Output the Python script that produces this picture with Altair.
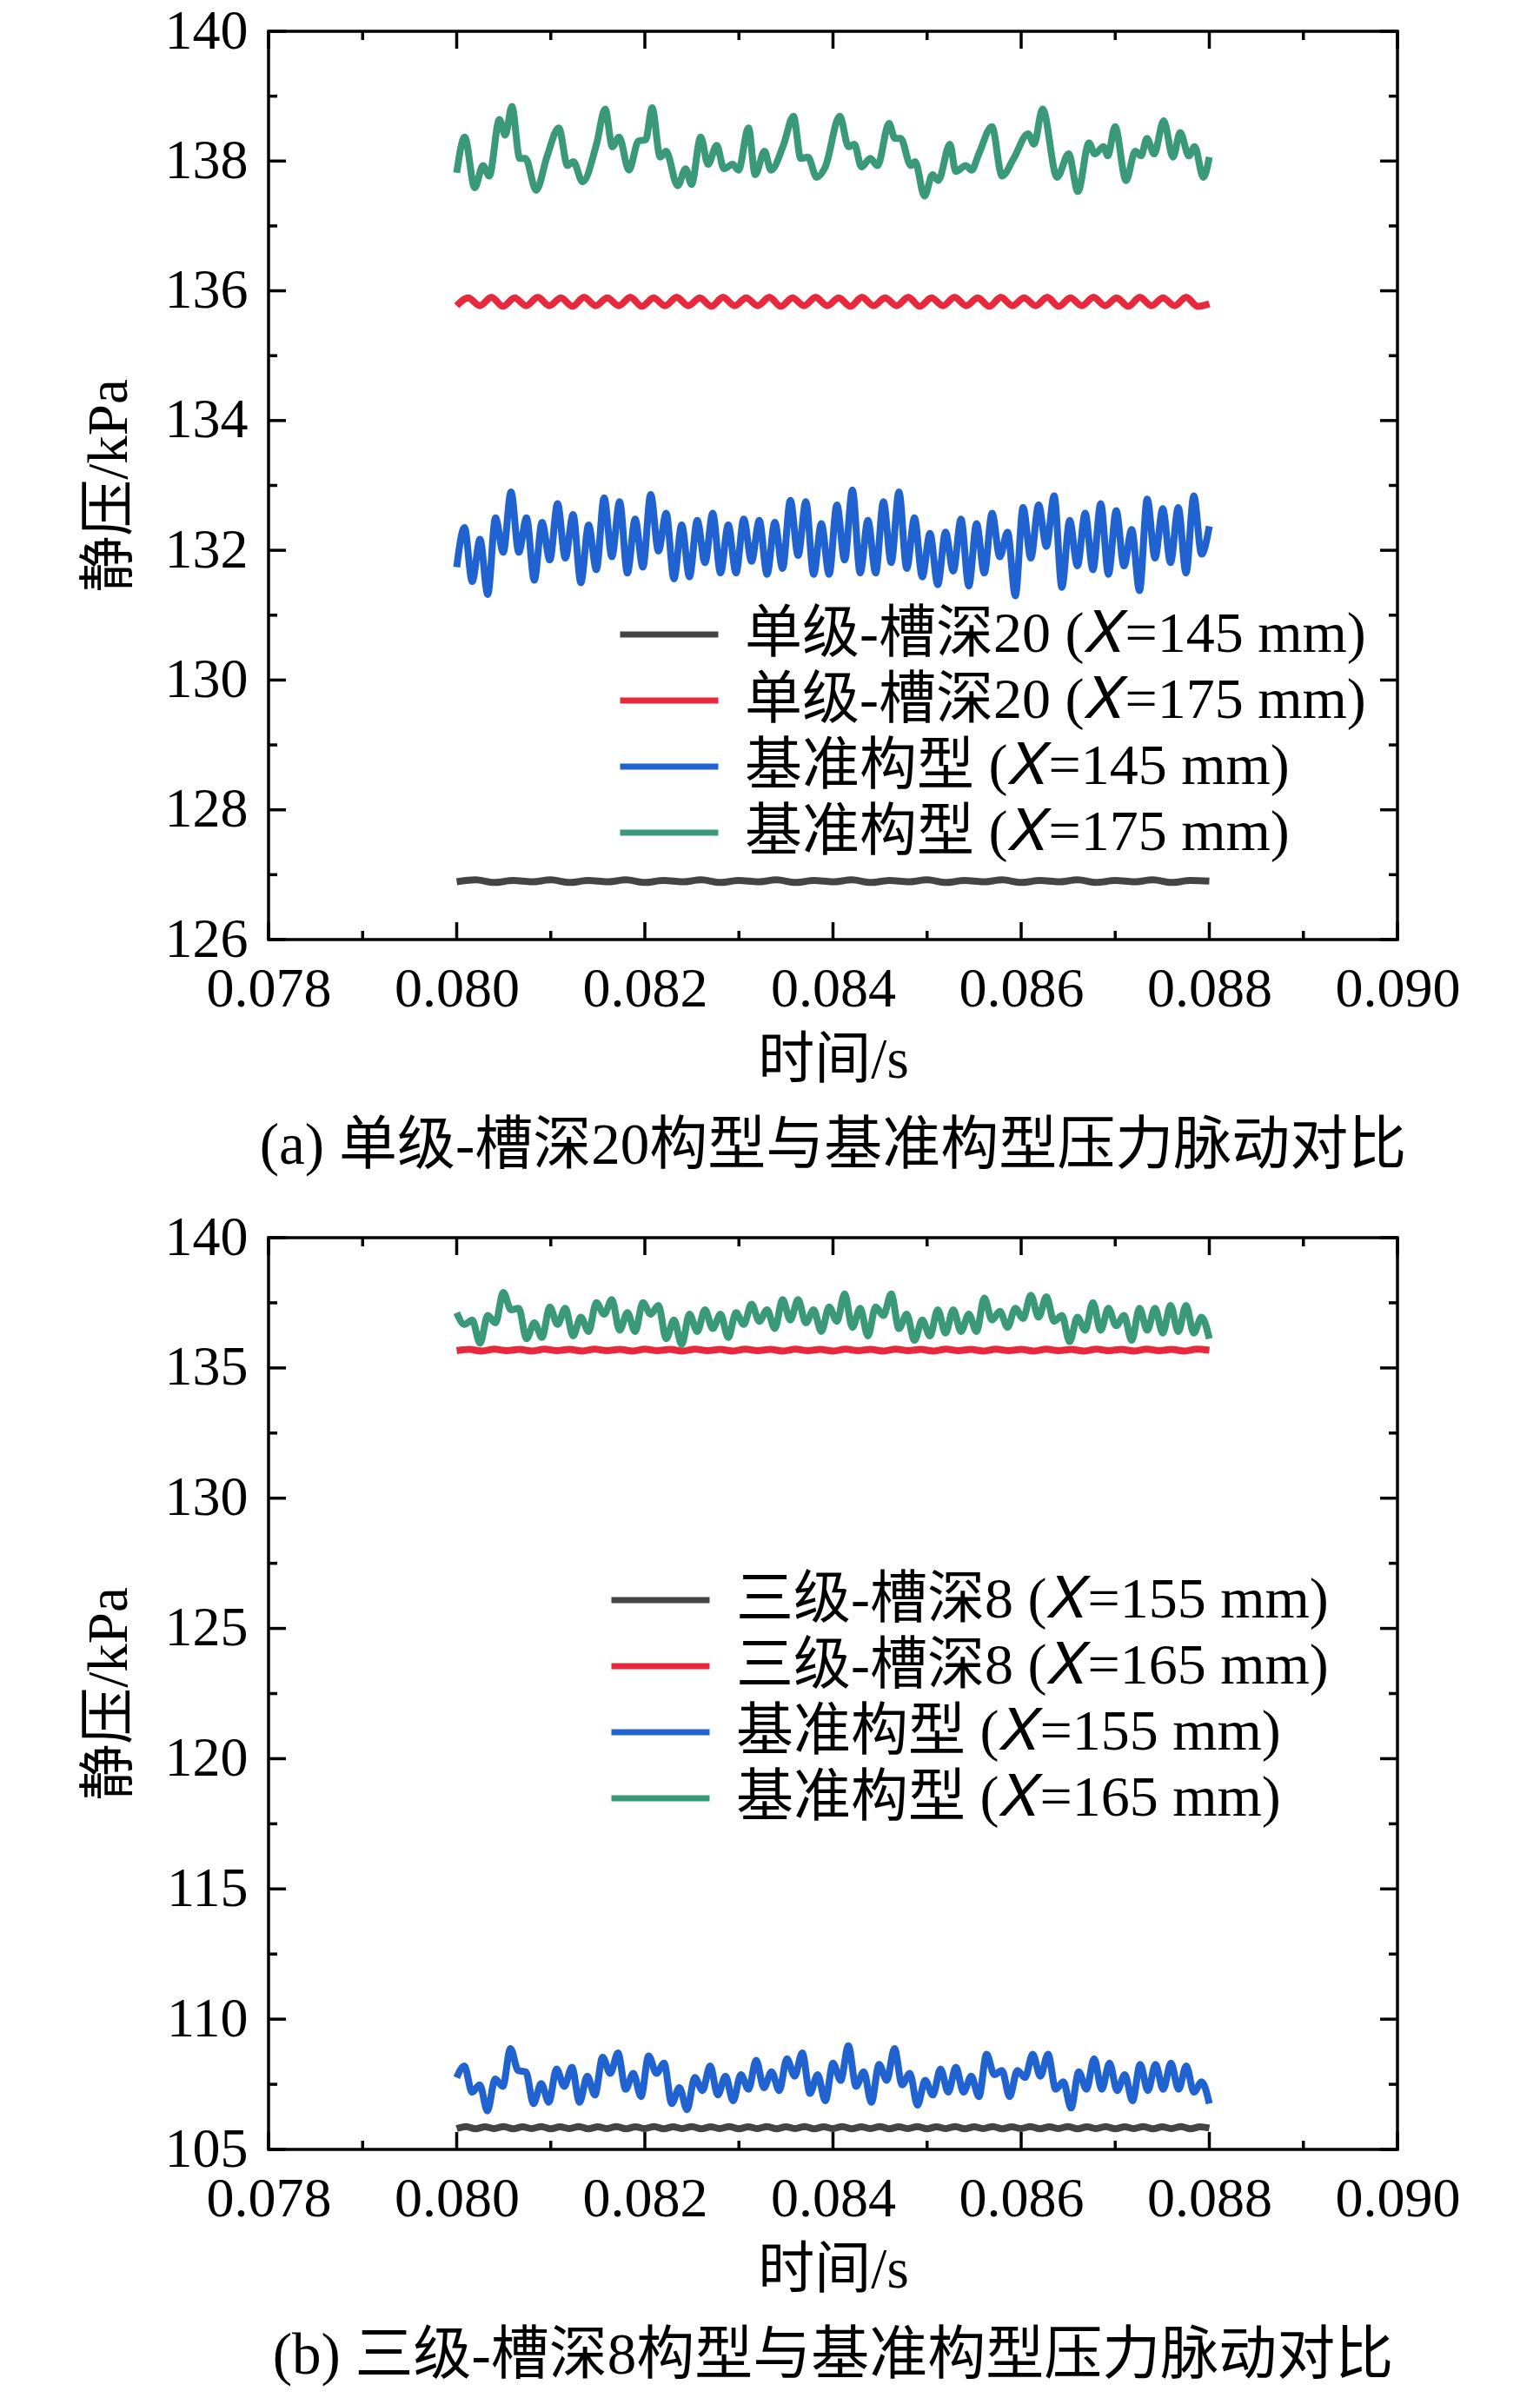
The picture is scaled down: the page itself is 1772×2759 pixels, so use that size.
import altair as alt
import numpy as np
import pandas as pd

FONT = "Liberation Serif, Times New Roman, Noto Sans CJK SC"

# ---------------- panel (a) ----------------
labels_a = ["单级-槽深20 (𝑋=145 mm)", "单级-槽深20 (𝑋=175 mm)",
            "基准构型 (𝑋=145 mm)", "基准构型 (𝑋=175 mm)"]
caption_a = "(a) 单级-槽深20构型与基准构型压力脉动对比"

black_a = [126.89, 126.92, 126.88, 126.91, 126.89, 126.92, 126.88, 126.91, 126.89, 126.92,
           126.88, 126.91, 126.89, 126.92, 126.88, 126.91, 126.89, 126.92, 126.88, 126.91,
           126.89, 126.92, 126.88, 126.91, 126.89, 126.92, 126.88, 126.91, 126.89, 126.92,
           126.88, 126.91, 126.89, 126.92, 126.88, 126.91, 126.89, 126.92, 126.88, 126.91, 126.90]

red_a = [135.77, 135.89, 135.77, 135.90, 135.76, 135.89, 135.77, 135.90, 135.77, 135.89,
         135.76, 135.90, 135.77, 135.89, 135.77, 135.90, 135.76, 135.89, 135.77, 135.90,
         135.77, 135.89, 135.76, 135.90, 135.77, 135.89, 135.77, 135.90, 135.76, 135.89,
         135.77, 135.90, 135.77, 135.89, 135.76, 135.90, 135.77, 135.89, 135.77, 135.90,
         135.76, 135.89, 135.77, 135.90, 135.77, 135.89, 135.76, 135.90, 135.77, 135.89,
         135.77, 135.90, 135.76, 135.89, 135.77, 135.90, 135.77, 135.89, 135.76, 135.90,
         135.77, 135.89, 135.77, 135.90, 135.76, 135.80]

blue_a = [131.74, 132.35, 131.52, 132.17, 131.32, 132.50, 131.97, 132.90, 131.97, 132.50,
          131.54, 132.43, 131.85, 132.72, 131.88, 132.55, 131.50, 132.39, 131.70, 132.81,
          131.90, 132.75, 131.65, 132.48, 131.74, 132.86, 131.99, 132.57, 131.56, 132.39,
          131.59, 132.46, 131.81, 132.57, 131.65, 132.39, 131.65, 132.48, 131.83, 132.46,
          131.63, 132.43, 131.72, 132.77, 131.92, 132.75, 131.63, 132.41, 131.63, 132.70,
          131.85, 132.93, 131.65, 132.46, 131.65, 132.75, 131.81, 132.90, 131.72, 132.50,
          131.59, 132.26, 131.47, 132.28, 131.68, 132.48, 131.45, 132.41, 131.65, 132.57,
          131.90, 132.28, 131.30, 132.66, 131.88, 132.70, 132.06, 132.84, 131.43, 132.46,
          131.76, 132.57, 131.70, 132.72, 131.63, 132.61, 131.76, 132.32, 131.38, 132.79,
          131.88, 132.64, 131.81, 132.66, 131.65, 132.84, 131.94, 132.37]

green_a_t = [0.080000, 0.080085, 0.080192, 0.080279, 0.080346, 0.080454, 0.080516, 0.080587,
             0.080670, 0.080731, 0.080845, 0.080962, 0.081085, 0.081178, 0.081240, 0.081338,
             0.081486, 0.081578, 0.081655, 0.081726, 0.081831, 0.081932, 0.082009, 0.082077,
             0.082163, 0.082225, 0.082348, 0.082434, 0.082496, 0.082594, 0.082671, 0.082764,
             0.082841, 0.082933, 0.082995, 0.083102, 0.083173, 0.083272, 0.083340, 0.083472,
             0.083580, 0.083657, 0.083734, 0.083826, 0.083918,
             0.084072, 0.084165, 0.084226, 0.084303, 0.084396, 0.084473, 0.084596, 0.084657,
             0.084719, 0.084827, 0.084873, 0.084972, 0.085058, 0.085119, 0.085243, 0.085304,
             0.085412, 0.085473, 0.085550, 0.085689, 0.085797, 0.085920, 0.086074, 0.086136,
             0.086228, 0.086382, 0.086505, 0.086603, 0.086721, 0.086782, 0.086875, 0.086921,
             0.086998, 0.087115, 0.087213, 0.087275, 0.087337, 0.087413, 0.087515, 0.087614,
             0.087690, 0.087783, 0.087844, 0.087937, 0.088000]
green_a = [137.82, 138.37, 137.59, 137.93, 137.77, 138.64, 138.40, 138.84, 138.04, 138.04,
           137.55, 138.08, 138.51, 137.93, 137.99, 137.68, 138.26, 138.80, 138.22, 138.37,
           137.86, 138.31, 138.33, 138.82, 138.06, 138.15, 137.62, 137.88, 137.64, 138.37,
           137.95, 138.24, 137.88, 137.95, 137.86, 138.51, 137.79, 138.15, 137.86, 138.24,
           138.69, 138.04, 138.06, 137.75, 137.91,
           138.69, 138.22, 138.26, 137.91, 138.04, 137.93, 138.58, 138.35, 138.35, 137.93,
           137.99, 137.46, 137.79, 137.70, 138.26, 137.84, 137.93, 137.86, 138.11, 138.53,
           137.77, 138.04, 138.42, 138.26, 138.80, 137.75, 138.11, 137.53, 138.28, 138.11,
           138.22, 138.08, 138.53, 137.70, 138.15, 138.08, 138.35, 138.11, 138.62, 138.06,
           138.44, 138.08, 138.22, 137.75, 138.06]

# ---------------- panel (b) ----------------
labels_b = ["三级-槽深8 (𝑋=155 mm)", "三级-槽深8 (𝑋=165 mm)",
            "基准构型 (𝑋=155 mm)", "基准构型 (𝑋=165 mm)"]
caption_b = "(b) 三级-槽深8构型与基准构型压力脉动对比"

black_b = [105.80, 105.88, 105.79, 105.87, 105.80, 105.88, 105.79, 105.87, 105.80, 105.88,
           105.79, 105.87, 105.80, 105.88, 105.79, 105.87, 105.80, 105.88, 105.79, 105.87,
           105.80, 105.88, 105.79, 105.87, 105.80, 105.88, 105.79, 105.87, 105.80, 105.88,
           105.79, 105.87, 105.80, 105.88, 105.79, 105.87, 105.80, 105.88, 105.79, 105.87,
           105.80, 105.88, 105.79, 105.87, 105.80, 105.88, 105.79, 105.87, 105.80, 105.88,
           105.79, 105.87, 105.80, 105.88, 105.79, 105.87, 105.80, 105.88, 105.79, 105.87,
           105.80, 105.88, 105.79, 105.87, 105.80, 105.88, 105.79, 105.87, 105.80, 105.88,
           105.79, 105.87, 105.80, 105.88, 105.79, 105.87, 105.80, 105.88, 105.79, 105.87, 105.82]

red_b = [135.66, 135.71, 135.65, 135.72, 135.66, 135.71, 135.65, 135.72, 135.66, 135.71,
         135.65, 135.72, 135.66, 135.71, 135.65, 135.72, 135.66, 135.71, 135.65, 135.72,
         135.66, 135.71, 135.65, 135.72, 135.66, 135.71, 135.65, 135.72, 135.66, 135.71,
         135.65, 135.72, 135.66, 135.71, 135.65, 135.72, 135.66, 135.71, 135.65, 135.72,
         135.66, 135.71, 135.65, 135.72, 135.66, 135.71, 135.65, 135.72, 135.66, 135.71,
         135.65, 135.72, 135.66, 135.71, 135.65, 135.72, 135.66, 135.71, 135.65, 135.72, 135.68]

blue_b = [107.76, 108.20, 107.20, 107.48, 106.48, 107.70, 107.42, 108.87, 108.03, 107.98,
          106.76, 107.53, 106.81, 108.09, 107.42, 108.15, 106.81, 107.81, 107.09, 108.54,
          107.92, 108.70, 107.31, 107.92, 107.03, 108.59, 107.92, 108.31, 106.76, 107.37,
          106.53, 107.76, 107.26, 108.20, 107.09, 107.81, 106.87, 107.87, 107.31, 108.42,
          107.37, 107.98, 107.26, 108.48, 107.81, 108.70, 107.15, 107.87, 106.87, 108.31,
          107.65, 108.98, 107.42, 107.98, 106.81, 108.26, 107.65, 108.87, 107.48, 107.92,
          106.70, 107.65, 107.09, 108.09, 107.20, 108.15, 107.20, 107.81, 107.03, 108.65,
          107.87, 108.03, 107.03, 108.03, 107.76, 108.65, 107.81, 108.65, 107.31, 107.59,
          106.59, 107.98, 107.31, 108.48, 107.31, 108.31, 107.26, 107.87, 106.87, 108.26,
          107.26, 108.26, 107.31, 108.31, 107.31, 108.20, 107.20, 107.59, 106.76]

green_b = [137.12, 136.67, 136.84, 135.95, 137.01, 136.73, 137.90, 137.23, 137.29, 136.12,
           136.73, 136.17, 137.34, 136.67, 137.29, 136.23, 136.95, 136.40, 137.51, 137.06,
           137.62, 136.45, 137.12, 136.40, 137.51, 137.06, 137.40, 136.12, 136.84, 135.90,
           137.06, 136.40, 137.23, 136.51, 137.06, 136.17, 137.12, 136.67, 137.45, 136.79,
           137.23, 136.51, 137.62, 136.84, 137.62, 136.73, 137.23, 136.40, 137.34, 136.79,
           137.84, 136.56, 137.29, 136.23, 137.34, 137.01, 137.84, 136.51, 137.06, 136.06,
           136.84, 136.23, 137.23, 136.34, 137.23, 136.40, 137.06, 136.40, 137.68, 136.84,
           137.17, 136.56, 137.29, 136.90, 137.79, 136.95, 137.73, 136.79, 137.01, 136.01,
           136.95, 136.45, 137.51, 136.45, 137.29, 136.62, 137.01, 136.06, 137.29, 136.45,
           137.29, 136.34, 137.40, 136.40, 137.40, 136.34, 136.95, 136.12]

colors = ["#444444", "#e8283c", "#1f62d0", "#3a9a78"]

x_major = [0.078, 0.080, 0.082, 0.084, 0.086, 0.088, 0.090]
x_minor = [0.079, 0.081, 0.083, 0.085, 0.087, 0.089]


def uniform(vals):
    return np.linspace(0.080, 0.088, len(vals))


def build_df(series):
    frames = []
    for lab, t, v in series:
        frames.append(pd.DataFrame({"t": list(t), "p": list(v), "s": lab}))
    return pd.concat(frames, ignore_index=True)


def panel(df, labels, ydom, ymajor, yminor, lx, ly, caption, W, H):
    xs = alt.Scale(domain=[0.078, 0.090], nice=False, zero=False)
    ys = alt.Scale(domain=ydom, nice=False, zero=False)
    x_axis = alt.Axis(values=x_major, format=".3f", title="时间/s", grid=False, ticks=False,
                      domain=False, labelFont=FONT, labelFontSize=64, labelColor="black",
                      labelPadding=25, labelFlush=False, labelOverlap=False,
                      titleFont=FONT, titleFontSize=65, titleFontWeight="normal",
                      titleColor="black", titlePadding=18)
    y_axis = alt.Axis(values=ymajor, format="d", title="静压/kPa", grid=False, ticks=False,
                      domain=False, labelFont=FONT, labelFontSize=64, labelColor="black",
                      labelPadding=24, labelFlush=False, labelOverlap=False,
                      titleFont=FONT, titleFontSize=65, titleFontWeight="normal",
                      titleColor="black", titlePadding=30)
    X = alt.X("t:Q", scale=xs, axis=x_axis)
    Y = alt.Y("p:Q", scale=ys, axis=y_axis)

    lines = alt.Chart(df).mark_line(strokeWidth=8, interpolate="monotone").encode(
        x=X, y=Y,
        color=alt.Color("s:N", scale=alt.Scale(domain=labels, range=colors),
                        legend=alt.Legend(title=None, orient="none", legendX=lx, legendY=ly,
                                          symbolType="stroke", symbolSize=12769,
                                          symbolStrokeWidth=7, labelFont=FONT,
                                          labelFontSize=66, labelColor="black",
                                          labelLimit=3000, labelOffset=27, rowPadding=2,
                                          clipHeight=74, padding=0)),
    )

    layers = [lines]
    for vals, L in ((x_major, 20), (x_minor, 10)):
        d = pd.DataFrame({"t": vals})
        layers.append(alt.Chart(d).mark_rule(color="black", strokeWidth=3.5).encode(
            x=X, y=alt.value(H), y2=alt.value(H - L)))
        layers.append(alt.Chart(d).mark_rule(color="black", strokeWidth=3.5).encode(
            x=X, y=alt.value(0), y2=alt.value(L)))
    for vals, L in ((ymajor, 20), (yminor, 10)):
        d = pd.DataFrame({"p": vals})
        layers.append(alt.Chart(d).mark_rule(color="black", strokeWidth=3.5).encode(
            y=Y, x=alt.value(0), x2=alt.value(L)))
        layers.append(alt.Chart(d).mark_rule(color="black", strokeWidth=3.5).encode(
            y=Y, x=alt.value(W), x2=alt.value(W - L)))

    return alt.layer(*layers).properties(
        width=W, height=H,
        title=alt.TitleParams(caption, orient="bottom", anchor="middle", font=FONT,
                              fontSize=67, fontWeight="normal", color="black", offset=34),
    )


df_a = build_df([
    (labels_a[0], uniform(black_a), black_a),
    (labels_a[1], uniform(red_a), red_a),
    (labels_a[2], uniform(blue_a), blue_a),
    (labels_a[3], green_a_t, green_a),
])
df_b = build_df([
    (labels_b[0], uniform(black_b), black_b),
    (labels_b[1], uniform(red_b), red_b),
    (labels_b[2], uniform(blue_b), blue_b),
    (labels_b[3], uniform(green_b), green_b),
])

pa = panel(df_a, labels_a, [126, 140], list(range(126, 141, 2)), list(range(127, 140, 2)),
           401, 657, caption_a, 1299, 1045)
pb = panel(df_b, labels_b, [105, 140], list(range(105, 141, 5)),
           [107.5, 112.5, 117.5, 122.5, 127.5, 132.5, 137.5], 391, 380, caption_b, 1299, 1049)

chart = alt.vconcat(pa, pb, spacing=36).resolve_scale(color="independent").properties(
    padding={"left": 83, "top": -6, "right": 0, "bottom": 0}, background="white"
).configure_view(stroke="black", strokeWidth=3.5)

chart.save("out.html", embed_options={"renderer": "svg", "actions": False})
